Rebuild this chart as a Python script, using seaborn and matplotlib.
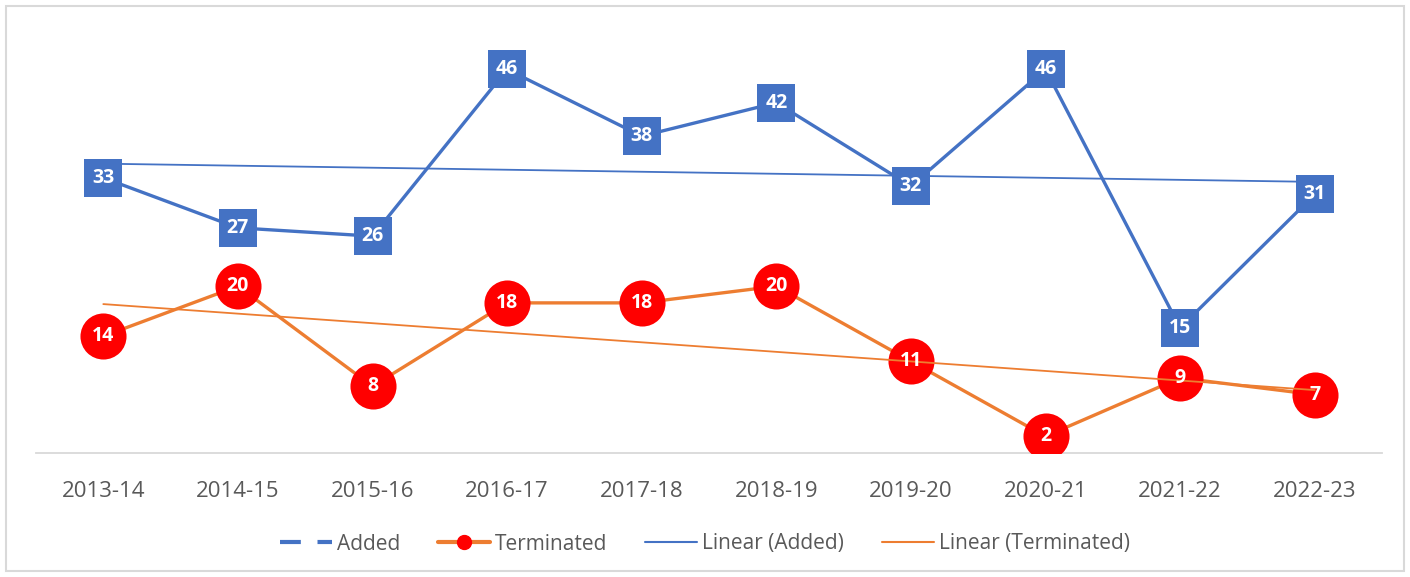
import matplotlib.pyplot as plt
import matplotlib.patches as mpatches
from matplotlib.lines import Line2D
import numpy as np
import pandas as pd
import seaborn as sns

sns.set_theme(style="white")
plt.rcParams['font.family'] = ['Open Sans', 'DejaVu Sans']

years = ["2013-14", "2014-15", "2015-16", "2016-17", "2017-18",
         "2018-19", "2019-20", "2020-21", "2021-22", "2022-23"]
added = [33, 27, 26, 46, 38, 42, 32, 46, 15, 31]
terminated = [14, 20, 8, 18, 18, 20, 11, 2, 9, 7]

blue = "#4472C4"
orange = "#ED7D31"
red = "#FF0000"
grey_txt = "#595959"

df = pd.DataFrame({"idx": np.arange(len(years)), "year": years,
                   "Added": added, "Terminated": terminated})

fig = plt.figure(figsize=(14.1, 5.77), dpi=100)
# chart border
fig.patches.append(mpatches.Rectangle((6 / 1410, 6 / 577), 1398 / 1410, 565 / 577,
                                      transform=fig.transFigure, fill=False,
                                      edgecolor="#D9D9D9", linewidth=1.5))
ax = fig.add_axes([36 / 1410, (577 - 453) / 577, 1346 / 1410, 417 / 577])

sns.lineplot(data=df, x="idx", y="Added", ax=ax, color=blue, linewidth=2.4, zorder=3)
sns.lineplot(data=df, x="idx", y="Terminated", ax=ax, color=orange, linewidth=2.4, zorder=3)
ax.scatter(df["idx"], df["Terminated"], s=1100, color=red, zorder=4, linewidths=0)
# square label boxes for Added
ax.scatter(df["idx"], df["Added"], s=28 ** 2, marker="s", color=blue, zorder=6,
           linewidths=0)

# linear trendlines
x = df["idx"].to_numpy()
for col, c in [("Added", blue), ("Terminated", orange)]:
    k, b = np.polyfit(x, df[col], 1)
    ax.plot(x, k * x + b, color=c, linewidth=1.3, zorder=5)

# data labels
for i, v in zip(x, added):
    ax.text(i, v, str(v), ha="center", va="center", color="white", fontsize=14,
            fontweight="bold", zorder=7)
for i, v in zip(x, terminated):
    ax.text(i, v, str(v), ha="center", va="center", color="white", fontsize=14,
            fontweight="bold", zorder=7)

ax.set_xlim(-0.5, len(years) - 0.5)
ax.set_ylim(0, 50)
ax.set_xticks(x)
ax.set_xticklabels(years, fontsize=16, color=grey_txt)
ax.set_yticks([])
ax.set_xlabel("")
ax.set_ylabel("")
ax.tick_params(axis="x", length=0, pad=20)
for s in ["top", "right", "left"]:
    ax.spines[s].set_visible(False)
ax.spines["bottom"].set_color("#D9D9D9")
ax.spines["bottom"].set_linewidth(1.3)

handles = [
    Line2D([], [], color=blue, linewidth=3, linestyle=(0, (5, 4))),
    Line2D([], [], color=orange, linewidth=3, marker="o", markersize=10,
           markerfacecolor=red, markeredgecolor=red),
    Line2D([], [], color=blue, linewidth=1.5),
    Line2D([], [], color=orange, linewidth=1.5),
]
labels = ["Added", "Terminated", "Linear (Added)", "Linear (Terminated)"]
leg = fig.legend(handles, labels, loc="center", bbox_to_anchor=(0.5, 1 - 544 / 577),
                 ncol=4, frameon=False, fontsize=15, handlelength=2.5,
                 columnspacing=1.8, handletextpad=0.25)
for t in leg.get_texts():
    t.set_color(grey_txt)

fig.savefig("out.png", dpi=100)
